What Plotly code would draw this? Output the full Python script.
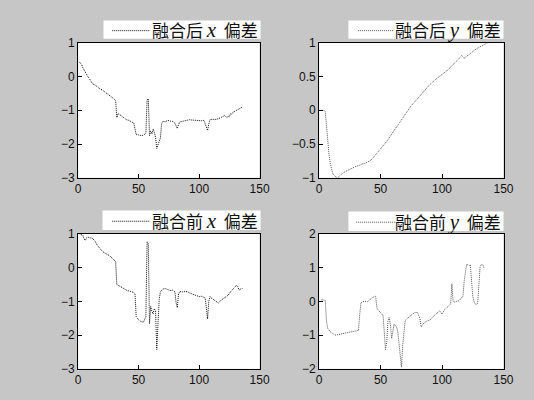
import plotly.graph_objects as go

# ---------------- data ----------------
after_x_t = [1, 2, 3, 4, 5, 6, 7, 8, 9, 10,
             12, 14, 16, 18, 20, 22, 24, 26, 28, 30,
             31, 32, 33, 34, 36, 38, 40, 42, 44, 46,
             47, 48, 50, 52, 54, 55, 56, 57, 58, 59,
             60, 61, 62, 63, 64, 65, 66, 67, 68, 69,
             70, 72, 74, 76, 78, 80, 81, 82, 83, 84,
             86, 88, 90, 92, 94, 96, 98, 100, 102, 104,
             105, 106, 107, 108, 109, 110, 112, 114, 116, 118,
             120, 121, 122, 123, 124, 125, 126, 127, 128, 130,
             132, 134, 136]
after_x_v = [0.43, 0.40, 0.35, 0.25, 0.18, 0.12, 0.05, 0.0, -0.05, -0.12,
             -0.22, -0.25, -0.32, -0.37, -0.40, -0.45, -0.50, -0.57, -0.62, -0.68,
             -0.72, -1.22, -1.10, -1.12, -1.18, -1.22, -1.28, -1.30, -1.35, -1.38,
             -1.55, -1.72, -1.73, -1.75, -1.74, -1.70, -1.68, -0.70, -0.66, -1.75,
             -1.62, -1.70, -1.56, -1.66, -1.80, -2.13, -2.00, -1.90, -1.82, -1.40,
             -1.33, -1.34, -1.30, -1.32, -1.33, -1.38, -1.45, -1.54, -1.42, -1.35,
             -1.33, -1.31, -1.30, -1.28, -1.29, -1.30, -1.31, -1.30, -1.31, -1.30,
             -1.40, -1.52, -1.60, -1.40, -1.28, -1.27, -1.28, -1.27, -1.25, -1.22,
             -1.18, -1.15, -1.20, -1.22, -1.17, -1.20, -1.10, -1.12, -1.06, -1.02,
             -0.98, -0.93, -0.90]

after_y_t = [2, 3, 4, 5, 6, 7, 8, 9, 10, 11,
             12, 13, 14, 15, 16, 18, 20, 22, 24, 26,
             28, 30, 32, 34, 36, 38, 40, 42, 44, 46,
             48, 50, 55, 60, 65, 70, 75, 80, 85, 90,
             95, 100, 105, 108, 110, 112, 114, 116, 118, 120,
             122, 124, 126, 128, 130, 132, 134, 136, 137]
after_y_v = [0.0, 0.0, 0.0, -0.02, -0.25, -0.45, -0.65, -0.78, -0.88, -0.93,
             -0.96, -0.98, -0.99, -1.0, -0.98, -0.95, -0.92, -0.90, -0.88, -0.86,
             -0.84, -0.83, -0.82, -0.80, -0.79, -0.78, -0.76, -0.74, -0.70, -0.66,
             -0.61, -0.57, -0.46, -0.33, -0.20, -0.06, 0.07, 0.17, 0.28, 0.38,
             0.46, 0.53, 0.60, 0.66, 0.69, 0.73, 0.77, 0.81, 0.77, 0.80,
             0.83, 0.86, 0.89, 0.91, 0.93, 0.95, 0.97, 0.99, 1.0]

before_x_t = [1, 2, 3, 4, 5, 6, 7, 8,
              10, 12, 14, 16, 18, 20, 22, 24, 26, 28, 30,
              31, 32, 33, 34,
              36, 38, 40, 42, 44, 46,
              47, 48,
              50, 52, 54,
              55, 56, 57, 58, 59, 60, 61, 62, 63, 64, 65, 66, 67, 68,
              70, 72, 74, 76, 78, 80,
              81, 82, 83, 84,
              86, 88, 90, 92, 94, 96, 98, 100, 102, 104,
              105, 106, 107, 108, 109, 110,
              112, 114, 116, 118, 120, 122, 124, 126, 128, 130,
              131, 132, 133, 134,
              136]
before_x_v = [1.0, 0.98, 0.97, 0.95, 0.85, 0.80, 0.88, 0.90,
              0.88, 0.86, 0.78, 0.65, 0.57, 0.48, 0.43, 0.40, 0.35, 0.28, 0.22,
              0.18, -0.50, -0.52, -0.55,
              -0.58, -0.64, -0.67, -0.69, -0.71, -0.74,
              -0.78, -1.45,
              -1.55, -1.60, -1.62,
              -1.55, -1.45, 0.76, 0.70, -1.66, -1.15, -1.30, -1.37, -1.22, -1.28, -2.43, -1.50, -0.95, -0.72,
              -0.64, -0.62, -0.64, -0.68, -0.67, -0.72,
              -1.05, -1.19, -0.78, -0.71,
              -0.72, -0.72, -0.71, -0.75, -0.78, -0.80, -0.83, -0.86, -0.85, -0.88,
              -0.90, -1.20, -1.52, -1.00, -0.86, -0.90,
              -0.95, -1.02, -1.05, -0.97, -0.92, -0.88, -0.82, -0.72, -0.65, -0.58,
              -0.52, -0.56, -0.67, -0.64,
              -0.62]

before_y_t = [2, 4, 5, 6, 7, 9, 11, 13, 15, 18,
              21, 24, 27, 29, 31, 32, 33, 34, 35, 37,
              39, 41, 43, 45, 46, 47, 48, 50, 52, 53,
              54, 55, 56, 57, 58, 59, 60, 61, 62, 63, 64, 65, 66, 67, 68, 69, 70,
              72, 74, 76, 78, 80, 82, 83, 84, 86, 88,
              90, 92, 94, 96, 98, 100, 102, 104, 106, 107,
              108, 109, 110, 112, 114, 116, 117,
              118, 119, 120, 121, 122, 123, 124, 125, 126, 127, 128, 129, 130, 131, 132, 133, 134]
before_y_v = [0.05, 0.05, 0.03, -0.60, -0.80, -0.90, -0.95, -1.00, -0.99, -0.97,
              -0.95, -0.93, -0.91, -0.90, -0.88, -0.86, -0.40, -0.05, -0.02, 0.0,
              -0.02, 0.05, 0.10, 0.14, 0.15, -0.20, -0.26, -0.33, -0.42, -0.90,
              -1.43, -1.20, -0.60, -0.48, -0.70, -1.10, -0.80, -0.67, -0.72, -0.76, -0.90, -1.20, -1.60, -1.95, -1.30, -0.80, -0.57,
              -0.50, -0.43, -0.38, -0.33, -0.33, -0.50, -0.76, -0.70, -0.62, -0.58,
              -0.56, -0.48, -0.42, -0.35, -0.28, -0.38, -0.25, -0.18, -0.12, -0.08,
              0.52, 0.0, -0.02, 0.0, 0.02, 0.12, 0.14,
              0.60, 0.95, 1.10, 1.08, 1.05, 1.08, 0.60, 0.14, 0.0, -0.08, -0.10, -0.05, 0.50, 1.05, 1.08, 1.10, 1.0]

name_prefix = ['融合后', '融合后', '融合前', '融合前']
name_var = ['x', 'y', 'x', 'y']
name_suffix = '偏差'

x_ticks = [0, 50, 100, 150]
y_ranges = [[-3, 1], [-1, 1], [-3, 1], [-2, 2]]
y_ticks = [[-3, -2, -1, 0, 1], [-1, -0.5, 0, 0.5, 1], [-3, -2, -1, 0, 1], [-2, -1, 0, 1, 2]]
line_colors = ['#111111', '#555555', '#111111', '#555555']

# ---------------- layout geometry (pixels) ----------------
W, H = 534, 400
col_px = [(77, 263), (324, 513)]
row_px = [(37, 177), (235, 375)]
# legend boxes: (left, right, top, bottom, line_x0, line_x1)
legend_px = [(103, 264, 14, 33, 112, 150),
             (354, 513, 14, 33, 364, 400),
             (102, 264, 211, 231, 112, 150),
             (354, 513, 212, 232, 362, 402)]

fig = go.Figure()
series = [(after_x_t, after_x_v), (after_y_t, after_y_v), (before_x_t, before_x_v), (before_y_t, before_y_v)]

layout = dict(width=W, height=H, margin=dict(l=0, r=0, t=0, b=0),
              paper_bgcolor='#c6c6c6', plot_bgcolor='white', showlegend=False,
              shapes=[], annotations=[])


def px(xp):
    return xp / W


def py(yp):
    return 1 - yp / H


for i, (t, v) in enumerate(series):
    r, c = divmod(i, 2)
    sfx = '' if i == 0 else str(i + 1)
    label = (name_prefix[i] + ' <span style="font-family:Liberation Serif;font-size:21px"><i>'
             + name_var[i] + '</i></span>  ' + name_suffix)
    fig.add_trace(go.Scatter(x=t, y=v, mode='lines', name=label,
                             line=dict(color=line_colors[i], width=1, dash='1px,1px'),
                             xaxis='x' + sfx, yaxis='y' + sfx))
    x0, x1 = col_px[c]
    y0, y1 = row_px[r]
    axis_common = dict(showline=True, linecolor='black', linewidth=1, mirror=True,
                       ticks='inside', ticklen=4, tickcolor='black', showgrid=False, zeroline=False,
                       tickfont=dict(family='Liberation Sans', size=12, color='#111'))
    layout['xaxis' + sfx] = dict(domain=[px(x0), px(x1)], range=[0, 150], tickvals=x_ticks,
                                 anchor='y' + sfx, **axis_common)
    layout['yaxis' + sfx] = dict(domain=[py(y1), py(y0)], range=y_ranges[i], tickvals=y_ticks[i],
                                 anchor='x' + sfx, **axis_common)
    # legend box drawn as shapes + text
    bl, br, bt, bb, lx0, lx1 = legend_px[i]
    layout['shapes'].append(dict(type='rect', xref='paper', yref='paper',
                                 x0=px(bl), x1=px(br), y0=py(bb), y1=py(bt),
                                 fillcolor='white', line=dict(width=0), layer='above'))
    ym = (bt + bb) / 2 + 1
    layout['shapes'].append(dict(type='line', xref='paper', yref='paper',
                                 x0=px(lx0), x1=px(lx1), y0=py(ym), y1=py(ym),
                                 line=dict(color=line_colors[i], width=1, dash='1px,1px'),
                                 layer='above'))
    layout['annotations'].append(dict(text=label, xref='paper', yref='paper',
                                      x=px(br - 1), y=py((bt + bb) / 2), xanchor='right', yanchor='middle',
                                      showarrow=False,
                                      font=dict(family='Noto Sans CJK SC', size=17, color='#111')))

fig.update_layout(**layout)
fig.write_html('out.html')
